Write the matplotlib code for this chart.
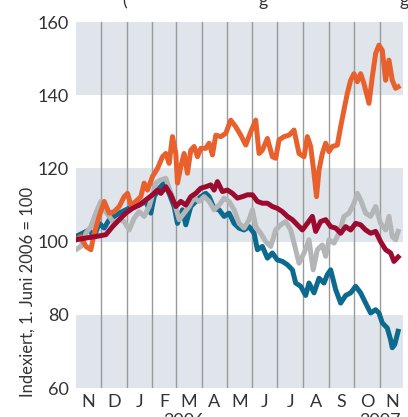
import matplotlib
matplotlib.use('Agg')
import matplotlib.pyplot as plt
import numpy as np

plt.rcParams['font.family'] = ['Lato', 'DejaVu Sans']

# month labels (Nov 2006 .. Nov 2007) and their lengths in days
months = ['N', 'D', 'J', 'F', 'M', 'A', 'M', 'J', 'J', 'A', 'S', 'O', 'N']
month_days = [30, 31, 31, 28, 31, 30, 31, 30, 31, 31, 30, 31, 30]

# orange
orange_day = [0, 6, 12, 18, 22, 28, 34, 40, 46, 52, 58, 62, 66, 72, 78, 82, 86, 92, 98, 104,
              108, 112, 116, 120, 122, 126, 130, 134, 138, 142, 146, 150, 156, 160, 164, 168,
              174, 180, 186, 192, 198, 204, 210, 216, 220, 224, 230, 236, 240, 244, 250, 256,
              262, 268, 274, 278, 282, 286, 289, 292, 296, 300, 304, 308, 314, 318, 322, 326,
              330, 334, 338, 342, 346, 352, 356, 360, 364, 368, 372, 376, 380, 384, 387]
orange_val = [100.5, 101.4, 98.7, 97.8, 102.3, 106.9, 111, 107.8, 108.2, 109.6,
              112.3, 113.2, 110, 111, 112.3, 116, 114.1, 117.8, 120, 123.2,
              124.1, 121.4, 128.7, 124.1, 116, 120.5, 124.1, 118.7, 125, 126,
              123.2, 125.5, 125.5, 126.9, 123.7, 129.1, 128.7, 129.6, 133.2, 131.4,
              129.1, 126.4, 130, 133.2, 124.1, 125, 128.2, 123.2, 122.8, 127.8,
              128.7, 129.1, 130.5, 124.1, 123.2, 128.7, 126, 118.7, 112.3, 119.6,
              124.1, 126.9, 124.6, 126, 126.4, 131.4, 136, 140.5, 144.1, 145.9,
              143.7, 145.9, 143.2, 137.8, 145, 151.4, 153.7, 152.3, 144.1, 149.6,
              144.1, 141.9, 142.3]

# dark red
red_day = [0, 12, 24, 36, 44, 52, 60, 68, 76, 84, 92, 98, 102, 108, 114, 120, 126, 132, 138,
           144, 150, 156, 162, 166, 170, 176, 182, 188, 194, 200, 206, 212, 218, 224, 230,
           236, 242, 248, 254, 260, 266, 272, 278, 284, 288, 294, 300, 306, 312, 318, 324,
           330, 336, 342, 348, 354, 360, 366, 372, 378, 382, 387]
red_val = [100.5, 101, 101.4, 101.9, 104.1, 106, 107.8, 109.1, 110, 111.4,
           112.8, 114.1, 113.2, 115, 112.8, 109.6, 111, 110, 112.3, 113.2,
           114.6, 115, 115.5, 114.1, 116.4, 113.7, 114.1, 113.2, 111.9, 112.3,
           112.8, 112.8, 111, 110.5, 110.5, 109.6, 109.1, 108.2, 106.9, 106,
           104.6, 103.2, 105, 106.9, 102.8, 105.5, 106, 104.1, 103.7, 102.3,
           104.1, 103.2, 105, 104.6, 103.2, 102.3, 102.8, 100, 97.8, 96.9,
           94.6, 95.8]

# grey
grey_day = [0, 6, 12, 18, 24, 30, 34, 40, 46, 52, 58, 64, 70, 76, 82, 88, 96, 102, 108, 112,
            118, 124, 130, 136, 142, 148, 154, 160, 166, 172, 178, 184, 190, 196, 202, 208,
            212, 216, 222, 228, 234, 240, 246, 252, 258, 264, 268, 274, 280, 285, 290, 296,
            300, 304, 310, 316, 322, 328, 334, 338, 342, 348, 354, 360, 366, 372, 376, 380,
            384, 387]
grey_val = [97.8, 98.7, 102.3, 104.1, 107.8, 111, 108.7, 106.9, 105, 106,
            105.5, 103.2, 106.4, 108.2, 106.9, 109.6, 116, 116.9, 117.3, 114.6,
            111, 106, 107.8, 109.6, 111.9, 111, 112.3, 111, 108.7, 110,
            111.9, 111, 108.7, 105, 103.7, 106, 108.7, 104.1, 102.3, 100,
            98.7, 103.2, 104.6, 105.5, 103.2, 97.8, 94.1, 96.9, 100.5, 92.3,
            97.8, 99.1, 96, 100.5, 99.6, 102.3, 106.9, 107.8, 110.5, 113.2,
            111.4, 107.8, 106.9, 109.6, 105, 103.2, 106.9, 101.4, 100.5, 102.8]

# petrol blue
blue_day = [0, 8, 16, 22, 28, 34, 40, 46, 52, 60, 68, 76, 84, 90, 94, 100, 106, 112, 118, 122,
            128, 132, 138, 144, 150, 156, 160, 166, 172, 178, 184, 190, 196, 202, 208, 214,
            218, 224, 230, 236, 242, 248, 254, 260, 264, 270, 276, 280, 286, 292, 298, 302,
            306, 312, 318, 324, 330, 336, 342, 348, 354, 360, 364, 368, 374, 378, 380, 383, 387]
blue_val = [101.4, 102.3, 103.2, 101.4, 105, 103.7, 106, 106.9, 107.8, 108.7,
            109.6, 110, 111, 107.8, 112.3, 114.6, 116, 113.2, 109.6, 105,
            108.7, 104.6, 109.6, 111, 112.3, 113.2, 112.3, 109.1, 108.7, 106.9,
            107.8, 105, 103.7, 103.2, 104.1, 102.3, 97.8, 98.7, 95.5, 96.9,
            95, 94.6, 93.7, 92.3, 88.7, 87.8, 85.3, 88.7, 86, 90,
            88.7, 91, 92.3, 86.9, 83.2, 85.3, 86, 87.8, 86, 83.2,
            80.5, 81.4, 80.5, 77.8, 76.4, 73.2, 71, 71.9, 75.5]

fig = plt.figure(figsize=(4.08, 4.17), dpi=100)
ax = fig.add_axes([0.186, 0.0695, 0.802, 0.8775])

ax.set_xlim(0, 393)
ax.set_ylim(60, 160)

# grey bands
for lo in [60, 100, 140]:
    ax.axhspan(lo, lo + 20, color='#dfe5eb', lw=0, zorder=0)

# month separators
edges = np.cumsum(month_days)[:-1]
for e in edges:
    ax.axvline(e, color='#9a9a9a', lw=1.0, zorder=1)

lw = 3.6
ax.plot(blue_day, blue_val, color='#0b6a8e', lw=lw, zorder=2)
ax.plot(grey_day, grey_val, color='#b3b5b7', lw=lw, zorder=3)
ax.plot(orange_day, orange_val, color='#e8612c', lw=lw, zorder=4)
ax.plot(red_day, red_val, color='#9c0a30', lw=lw, zorder=5)

for s in ax.spines.values():
    s.set_visible(False)

starts = np.concatenate([[0], edges])
mids = starts + np.array(month_days) / 2
ax.set_xticks(mids)
ax.set_xticklabels(months)
ax.set_yticks([60, 80, 100, 120, 140, 160])
ax.tick_params(length=0, labelsize=13, colors='#333333')
ax.tick_params(axis='x', pad=4)
ax.tick_params(axis='y', pad=5)

fig.text(28 / 408, 1 - 292 / 417, 'Indexiert, 1. Juni 2006 = 100', rotation=90,
         ha='center', va='center', fontsize=12, color='#333333')

# year labels, cut at the bottom edge
fig.text(184 / 408, 1 - 413.5 / 417, '2006', ha='center', va='top', fontsize=13, color='#333333')
fig.text(380 / 408, 1 - 413.5 / 417, '2007', ha='center', va='top', fontsize=13, color='#333333')

# bits of the heading line that is cut at the top edge
for hx, frag in [(125, '('), (263, 'g'), (404, 'g')]:
    fig.text(hx / 408, 1 - 6 / 417, frag, ha='center', va='baseline', fontsize=13,
             color='#333333')

plt.savefig('out.png', dpi=100)
